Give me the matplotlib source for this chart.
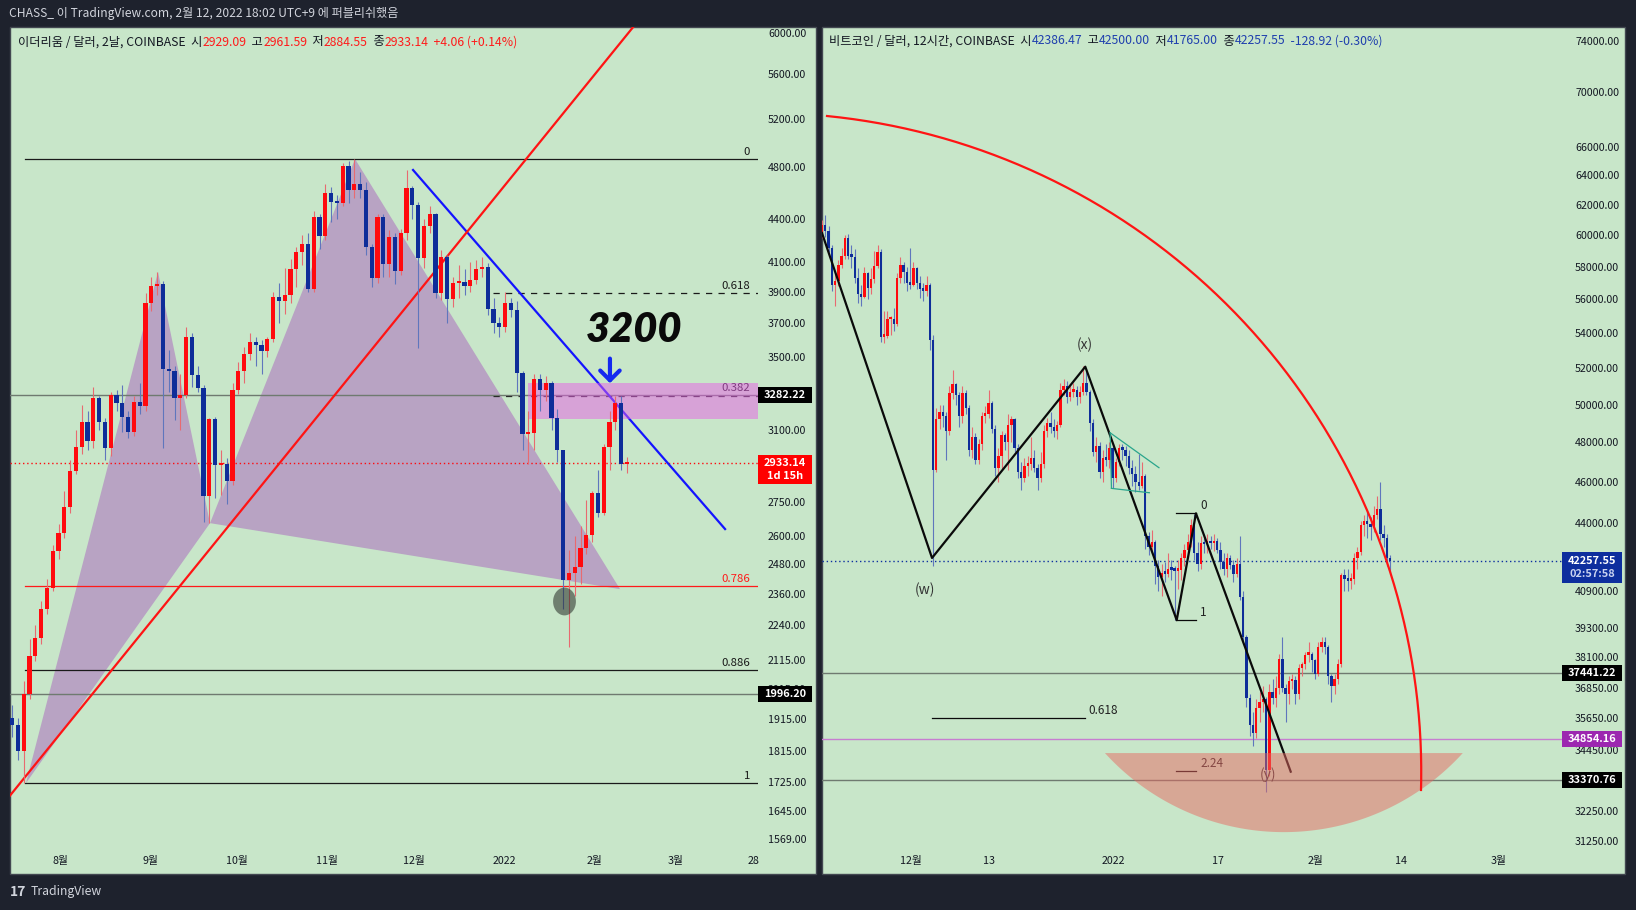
import numpy as np
import pandas as pd
import matplotlib
matplotlib.use('Agg')
import matplotlib.pyplot as plt
import matplotlib.ticker as mticker
from matplotlib.patches import Rectangle
from matplotlib.path import Path

plt.rcParams['font.family'] = ['Noto Sans CJK KR', 'DejaVu Sans']

# ------------------------------------------------------------------ data
# ETH / USD, 2-day candles (COINBASE)
eth_start = '2021-07-15 09:00'
eth_open0 = 1919
eth_close = [1897, 1816, 1997, 2128, 2192, 2301, 2382, 2534, 2611, 2727,
             2893, 3013, 3140, 3043, 3269, 3140, 3008, 3286, 3241, 3167,
             3089, 3247, 3225, 3828, 3938, 3950, 3430, 3419, 3269, 3286,
             3618, 3396, 3323, 2777, 3156, 2924, 2929, 2847, 3312, 3419,
             3517, 3588, 3570, 3535, 3606, 3867, 3841, 3880, 4051, 4167,
             4223, 3919, 4417, 4280, 4597, 4529, 4522, 4809, 4620, 4667,
             4620, 4203, 3991, 4417, 4085, 4272, 4037, 4301, 4636, 4507,
             4126, 4352, 4440, 3893, 4133, 3854, 3958, 3965, 3938, 3978,
             4051, 4065, 3791, 3703, 3679, 3828, 3785, 3408, 3079, 3085,
             3374, 3312, 3351, 3161, 2998, 2414, 2443, 2467, 2546, 2602,
             2791, 2699, 3013, 3140, 3241, 2929.09, 2933.14]
eth_high = [1960, 1920, 2040, 2190, 2240, 2330, 2420, 2560, 2650, 2800,
            2950, 3100, 3230, 3200, 3330, 3280, 3160, 3300, 3310, 3340,
            3200, 3280, 3350, 3890, 4000, 4031, 3970, 3540, 3450, 3400,
            3680, 3640, 3450, 3340, 3160, 3167, 3000, 2960, 3350, 3470,
            3560, 3640, 3620, 3600, 3620, 3900, 3960, 4060, 4120, 4200,
            4290, 4300, 4460, 4440, 4670, 4640, 4580, 4830, 4850, 4868,
            4760, 4680, 4220, 4440, 4440, 4320, 4300, 4330, 4780, 4650,
            4530, 4400, 4500, 4450, 4180, 4150, 4000, 4080, 4050, 4100,
            4110, 4130, 4090, 3860, 3740, 3900, 3860, 3840, 3420, 3200,
            3400, 3400, 3390, 3360, 3210, 3000, 2540, 2600, 2640, 2760,
            2800, 2900, 3030, 3200, 3280, 3280, 2961.59]
eth_low = [1860, 1790, 1722, 1980, 2110, 2170, 2280, 2370, 2500, 2590,
           2700, 2880, 2980, 3000, 3010, 3100, 2950, 2970, 3200, 3090,
           3060, 3070, 3180, 3200, 3780, 3880, 3008, 3300, 3150, 3100,
           3270, 3330, 3300, 2660, 2654, 2768, 2780, 2740, 2830, 3290,
           3350, 3480, 3450, 3400, 3500, 3590, 3700, 3760, 3830, 3930,
           4080, 3900, 3900, 4190, 4250, 4380, 4400, 4500, 4520, 4560,
           4560, 4150, 3930, 3960, 4000, 4000, 3950, 4010, 4250, 4400,
           3550, 4060, 4300, 3860, 3850, 3700, 3800, 3860, 3880, 3900,
           3950, 4000, 3750, 3640, 3620, 3650, 3740, 3300, 3000, 2930,
           3000, 3200, 3250, 3100, 2940, 2300, 2160, 2350, 2400, 2520,
           2570, 2680, 2690, 2900, 3100, 2900, 2884.55]

# BTC / USD, 12-hour candles (COINBASE), values in thousand USD
btc_start = '2021-11-17 09:00'
btc_open0_k = 60.1
btc_close_k = [60.7, 60.3, 59.2, 56.9, 57.1, 58.1, 58.7, 59.8, 58.7, 58.6,
               57.3, 56.3, 56.15, 57.6, 56.7, 57.25, 58.05, 58.95, 53.8, 53.85,
               54.8, 54.8, 54.55, 57.3, 58.1, 57.7, 57.0, 56.9, 57.9, 57.0,
               56.6, 56.5, 56.9, 53.6, 46.6, 49.2, 49.6, 49.4, 48.6, 50.6,
               51.1, 50.5, 49.4, 50.6, 49.8, 47.6, 48.3, 47.1, 47.9, 49.4,
               49.5, 50.1, 48.7, 46.7, 47.3, 48.4, 48.0, 48.9, 49.2, 47.7,
               46.5, 46.2, 46.8, 46.9, 47.2, 46.7, 46.2, 46.9, 48.6, 49.0,
               48.8, 48.6, 48.9, 50.8, 51.0, 50.4, 50.7, 50.8, 50.4, 50.7,
               51.2, 50.7, 49.0, 47.5, 47.8, 46.5, 47.2, 47.1, 47.7, 46.2,
               47.0, 47.7, 47.6, 47.3, 46.7, 46.4, 46.0, 45.8, 46.3, 43.4,
               42.9, 43.1, 42.0, 41.5, 41.7, 41.65, 41.9, 41.85, 41.8, 41.85,
               42.4, 42.75, 43.1, 43.9, 42.6, 42.1, 43.05, 43.0, 43.15, 43.05,
               43.15, 42.75, 42.2, 41.87, 42.36, 42.06, 41.64, 42.1, 40.65, 38.93,
               36.43, 35.39, 35.08, 36.04, 36.3, 36.4, 33.72, 36.69, 36.43, 36.85,
               38.0, 36.85, 36.6, 37.1, 37.15, 36.6, 37.65, 37.79, 38.17, 38.2,
               37.95, 37.4, 38.5, 38.7, 38.5, 37.3, 36.9, 37.2, 37.8, 41.6,
               41.45, 41.35, 41.45, 42.4, 42.65, 43.9, 44.1, 43.95, 43.8, 44.4,
               44.7, 43.5, 43.3, 42.38647, 42.25755]
btc_high_k = [61.0, 61.3, 60.6, 59.4, 57.6, 58.4, 59.2, 60.0, 60.1, 59.4,
              59.1, 57.9, 56.9, 58.0, 57.7, 57.9, 59.0, 59.4, 59.1, 55.3,
              55.3, 55.0, 55.5, 57.6, 58.6, 58.3, 58.0, 59.2, 58.3, 58.0,
              57.4, 57.0, 57.4, 57.0, 53.9, 49.8, 50.0, 50.0, 49.6, 51.0,
              51.9, 51.2, 50.7, 51.0, 50.8, 50.0, 48.8, 48.5, 48.2, 49.6,
              49.9, 50.8, 50.2, 48.9, 47.7, 48.6, 48.5, 49.5, 49.4, 49.3,
              47.9, 47.0, 47.2, 47.3, 48.3, 47.6, 46.9, 47.5, 48.9, 49.3,
              49.6, 49.2, 49.1, 51.2, 51.4, 51.3, 51.0, 51.2, 51.0, 51.0,
              52.1, 51.9, 50.8, 49.2, 48.3, 48.0, 47.6, 47.9, 48.0, 47.9,
              47.2, 47.9, 47.9, 47.8, 47.6, 47.1, 46.8, 47.4, 47.0, 46.4,
              43.6, 43.7, 43.2, 42.3, 42.1, 42.2, 42.6, 42.3, 42.0, 42.3,
              42.6, 43.0, 43.5, 44.2, 44.45, 43.1, 43.4, 43.3, 43.5, 43.4,
              43.5, 43.3, 43.1, 42.6, 42.6, 42.5, 42.3, 42.4, 43.4, 40.9,
              39.0, 36.6, 35.9, 36.4, 36.7, 36.9, 36.5, 37.0, 37.2, 37.3,
              38.2, 38.9, 37.0, 37.3, 37.4, 37.3, 37.8, 37.9, 38.3, 38.7,
              38.3, 38.0, 38.7, 38.9, 38.9, 38.6, 37.4, 37.4, 38.0, 41.7,
              41.9, 41.9, 41.7, 42.6, 42.9, 44.1, 44.4, 44.6, 44.3, 44.8,
              45.3, 46.0, 43.9, 43.5, 42.5]
btc_low_k = [59.8, 59.9, 58.9, 56.5, 55.6, 56.8, 57.9, 58.5, 58.5, 57.9,
             57.0, 55.8, 55.6, 56.1, 56.0, 56.3, 57.0, 57.9, 53.5, 53.4,
             53.7, 53.9, 54.1, 54.4, 57.0, 57.0, 56.5, 56.6, 56.8, 56.6,
             56.1, 55.9, 56.2, 53.0, 42.0, 46.5, 48.7, 48.8, 47.1, 48.4,
             50.3, 50.0, 48.8, 49.0, 49.5, 47.3, 47.2, 46.9, 46.9, 47.6,
             49.0, 49.3, 48.5, 46.3, 46.0, 46.6, 47.6, 46.6, 48.0, 47.5,
             46.2, 45.6, 46.0, 46.3, 46.6, 46.5, 45.6, 46.0, 46.7, 48.3,
             48.5, 48.3, 48.2, 48.8, 50.5, 50.1, 50.2, 50.4, 50.0, 50.1,
             50.5, 50.5, 48.6, 47.3, 47.0, 46.2, 46.0, 46.8, 46.7, 45.7,
             46.0, 46.8, 47.1, 46.8, 46.4, 45.8, 45.5, 45.6, 45.7, 42.8,
             42.5, 42.6, 41.2, 40.9, 40.7, 41.3, 41.5, 41.4, 39.65, 41.0,
             41.4, 42.0, 42.4, 42.9, 42.3, 41.8, 41.9, 42.6, 42.6, 42.8,
             42.7, 42.6, 41.9, 41.6, 41.5, 41.9, 41.3, 41.5, 40.5, 38.7,
             36.1, 35.0, 34.6, 34.9, 35.5, 35.9, 32.94, 33.5, 36.2, 36.1,
             36.6, 36.7, 35.5, 36.2, 36.8, 36.2, 36.4, 37.3, 37.6, 37.9,
             37.5, 37.2, 37.3, 38.3, 38.2, 37.0, 36.3, 36.6, 37.0, 37.7,
             40.9, 40.9, 41.0, 41.2, 41.9, 42.5, 43.4, 43.3, 43.2, 43.6,
             44.2, 43.2, 42.9, 42.0, 41.765]

# axis ticks
eth_xtick_dates = ['2021-08-01', '2021-09-01', '2021-10-01', '2021-11-01', '2021-12-01',
                   '2022-01-01', '2022-02-01', '2022-03-01', '2022-03-28']
eth_xtick_labels = ['8월', '9월', '10월', '11월', '12월', '2022', '2월', '3월', '28']
eth_yticks = [6000, 5600, 5200, 4800, 4400, 4100, 3900, 3700, 3500, 3100, 2750, 2600,
              2480, 2360, 2240, 2115, 2015, 1915, 1815, 1725, 1645, 1569]
btc_xtick_dates = ['2021-12-01', '2021-12-13', '2022-01-01', '2022-01-17', '2022-02-01',
                   '2022-02-14', '2022-03-01']
btc_xtick_labels = ['12월', '13', '2022', '17', '2월', '14', '3월']
btc_yticks = [74000, 70000, 66000, 64000, 62000, 60000, 58000, 56000, 54000, 52000, 50000,
              48000, 46000, 44000, 40900, 39300, 38100, 36850, 35650, 34450,
              32250, 31250]

# drawing levels (prices) -- ETH
eth_fib_solid = [('0', 4865, '#1a1a1a'), ('0.786', 2392, '#ff1a1a'),
                 ('0.886', 2078, '#1a1a1a'), ('1', 1722, '#1a1a1a')]
eth_fib_dashed = [('0.618', 3893), ('0.382', 3282)]
eth_hlines = [3282.22, 1996.20]
eth_last = 2933.14
eth_zone = (3156, 3351)
# harmonic XABCD points (day from 2021-08-01, price)
eth_xabcd = [(-11.86, 1722), (33.66, 4031), (51.59, 2654), (101.6, 4865), (192.97, 2378)]
eth_blue_line = [(121.6, 4777), (229.2, 2628)]
eth_red_line = [(-17.24, 1688), (196.9, 6038)]

# drawing levels -- BTC  (day from 2021-12-01, price)
btc_hlines = [(37441.22, '#6f7a70'), (34854.16, '#c77dd0'), (33370.76, '#6f7a70')]
btc_last = 42257.55
btc_wxy = [(-13.63, 60150), (3.22, 42380), (26.69, 52080), (40.69, 39634), (43.64, 44469), (58.15, 33663)]
btc_fib_short = [('0', 44469), ('1', 39634), ('2.24', 33685)]
btc_618 = 35668
btc_arc = [(-12.86, 68232), (50.38, 54886), (78.1, 33005)]
btc_bowl = [(29.7, 34345), (57.0, 31540), (84.5, 34345)]

# ------------------------------------------------------------------ style
W, H = 1636, 910
GREEN = '#c8e6c9'
BG = '#1e222d'
RED = '#ff0a0e'
BLUE = '#0e2d99'
RED_W = '#e86a70'
BLUE_W = '#5f76bd'
TXT = '#131722'

fig = plt.figure(figsize=(W / 100, H / 100), dpi=100)
fig.patch.set_facecolor(BG)

# panels
for x0, x1 in [(10, 816), (822, 1625)]:
    fig.add_artist(Rectangle((x0 / W, 1 - 874 / H), (x1 - x0) / W, (874 - 27) / H,
                             transform=fig.transFigure, facecolor=GREEN,
                             edgecolor='#434851', lw=1, zorder=-1))


def make_axes(x0, x1, y0, y1):
    ax = fig.add_axes([x0 / W, 1 - y1 / H, (x1 - x0) / W, (y1 - y0) / H])
    ax.set_facecolor('none')
    for s in ax.spines.values():
        s.set_visible(False)
    ax.set_yscale('log')
    return ax


def log_lims(p_top, y_top, p_bot, y_bot, ax_top, ax_bot):
    k = (np.log(p_top) - np.log(p_bot)) / (y_bot - y_top)
    return np.exp(np.log(p_bot) - (ax_bot - y_bot) * k), np.exp(np.log(p_top) + (y_top - ax_top) * k)


def style_axes(ax, yticks, xdays, xlabels, ypad):
    ax.yaxis.tick_right()
    ax.set_yticks(yticks)
    ax.set_yticklabels([f'{v:.2f}' for v in yticks])
    ax.yaxis.set_minor_locator(mticker.NullLocator())
    ax.yaxis.set_minor_formatter(mticker.NullFormatter())
    ax.set_xticks(xdays)
    ax.set_xticklabels(xlabels)
    ax.tick_params(axis='y', length=0, pad=ypad, labelsize=7.7, labelcolor=TXT)
    ax.tick_params(axis='x', length=0, pad=5.6, labelsize=7.7, labelcolor=TXT)


def candles(ax, x, o, h, l, c, w):
    o, h, l, c = map(np.asarray, (o, h, l, c))
    h = np.maximum(h, np.maximum(o, c))
    l = np.minimum(l, np.minimum(o, c))
    up = c >= o
    ax.vlines(x, l, h, colors=np.where(up, RED_W, BLUE_W), lw=0.8, zorder=3)
    bot = np.minimum(o, c)
    hgt = np.maximum(np.abs(c - o), bot * 0.003)
    ax.bar(x, hgt, bottom=bot, width=w, color=np.where(up, RED, BLUE), lw=0, zorder=3.5)


def circle3(P):
    (ax_, ay_), (bx, by), (cx, cy) = P
    d = 2 * (ax_ * (by - cy) + bx * (cy - ay_) + cx * (ay_ - by))
    ux = ((ax_**2 + ay_**2) * (by - cy) + (bx**2 + by**2) * (cy - ay_) + (cx**2 + cy**2) * (ay_ - by)) / d
    uy = ((ax_**2 + ay_**2) * (cx - bx) + (bx**2 + by**2) * (ax_ - cx) + (cx**2 + cy**2) * (bx - ax_)) / d
    return ux, uy, np.hypot(ax_ - ux, ay_ - uy)


def arc_points(ax, pts, n=300):
    T = ax.transData
    P = T.transform(pts)
    cx, cy, r = circle3(P)
    a0, am, a1 = [np.arctan2(p[1] - cy, p[0] - cx) for p in P]
    span = lambda a, b: (b - a) % (2 * np.pi)
    if span(a0, am) < span(a0, a1):
        ang = a0 + np.linspace(0, span(a0, a1), n)
    else:
        ang = a0 - np.linspace(0, span(a1, a0), n)
    D = np.column_stack([cx + r * np.cos(ang), cy + r * np.sin(ang)])
    return T.inverted().transform(D)


# ------------------------------------------------------------------ left: ETH
axL = make_axes(10, 758, 27, 848)
L0, LS = 60.4, 2.9          # pixel of 2021-08-01, pixels per day
axL.set_xlim((10 - L0) / LS, (758 - L0) / LS)
eth_base = pd.Timestamp('2021-08-01')
eth_x = (pd.date_range(eth_start, periods=len(eth_close), freq='2D') - eth_base) / pd.Timedelta('1D')
eth_open = [eth_open0] + eth_close[:-1]
style_axes(axL, eth_yticks,
           (pd.to_datetime(eth_xtick_dates) - eth_base) / pd.Timedelta('1D'),
           eth_xtick_labels, 7.2)
axL.set_ylim(*log_lims(6000, 33, 1569, 839, 27, 848))
xmaxL = axL.get_xlim()[1]

X, A, B, C, D = eth_xabcd
HARM = '#b8a3c3'
axL.fill([X[0], A[0], B[0]], [X[1], A[1], B[1]], color=HARM, lw=0, zorder=1)
axL.fill([B[0], C[0], D[0]], [B[1], C[1], D[1]], color=HARM, lw=0, zorder=1)

for name, p, col in eth_fib_solid:
    axL.plot([-12.2, xmaxL], [p, p], color=col, lw=0.9, zorder=2)
    axL.annotate(name, xy=(237.8, p), xytext=(0, 1.5), textcoords='offset points',
                 ha='right', va='bottom', fontsize=8.2, color=col, zorder=2)
for name, p in eth_fib_dashed:
    axL.plot([149.2, xmaxL], [p, p], color='#1a1a1a', lw=0.9, ls=(0, (5, 5)), zorder=2)
    axL.annotate(name, xy=(237.8, p), xytext=(0, 1.5), textcoords='offset points',
                 ha='right', va='bottom', fontsize=8.2, color='#1a1a1a', zorder=2)
for p in eth_hlines:
    axL.axhline(p, color='#6f7a70', lw=1, zorder=2)
axL.axhline(eth_last, color=RED, lw=1, ls=(0, (1, 2)), zorder=2)

axL.plot(*zip(*eth_blue_line), color='#1414ff', lw=1.6, zorder=2)
axL.axline(eth_red_line[0], eth_red_line[1], color='#ff1414', lw=1.6, zorder=2.2)

axL.bar([(161.3 + xmaxL) / 2], [eth_zone[1] - eth_zone[0]], bottom=eth_zone[0],
        width=xmaxL - 161.3, color='#e65fe6', alpha=0.5, lw=0, zorder=2.5)

candles(axL, eth_x, eth_open, eth_high, eth_low, eth_close, 1.45)

t = np.linspace(0, 2 * np.pi, 80)
ell = Path(np.column_stack([23 * np.cos(t), 28 * np.sin(t)]))
axL.plot([173.5], [2332], marker=ell, ms=20, color='#262b26', alpha=0.55, mew=0, zorder=6)

axL.text(197.8, 3660, '3200', fontsize=30, fontweight='heavy', style='italic',
         family=['Lato', 'DejaVu Sans'], color='#0a0a0a', ha='center', va='center', zorder=7)
axL.annotate('', xy=(189.5, 3350), xytext=(189.5, 3490),
             arrowprops=dict(arrowstyle='->,head_length=1.0,head_width=1.0', lw=3,
                             color='#1428f0', mutation_scale=7, shrinkA=0, shrinkB=0), zorder=7)

# ------------------------------------------------------------------ right: BTC
axR = make_axes(822, 1562, 27, 848)
R0, RS = 911, 6.53          # pixel of 2021-12-01, pixels per day
axR.set_xlim((822 - R0) / RS, (1562 - R0) / RS)
btc_base = pd.Timestamp('2021-12-01')
btc_x = (pd.date_range(btc_start, periods=len(btc_close_k), freq='12h') - btc_base) / pd.Timedelta('1D')
btc_close = np.array(btc_close_k) * 1000
btc_open = np.array([btc_open0_k] + btc_close_k[:-1]) * 1000
btc_high = np.array(btc_high_k) * 1000
btc_low = np.array(btc_low_k) * 1000
style_axes(axR, btc_yticks,
           (pd.to_datetime(btc_xtick_dates) - btc_base) / pd.Timedelta('1D'),
           btc_xtick_labels, 9.4)
axR.set_ylim(*log_lims(74000, 40.7, 31250, 840.7, 27, 848))

for p, col in btc_hlines:
    axR.axhline(p, color=col, lw=1, zorder=2)
axR.axhline(btc_last, color='#0d2fa0', lw=1, ls=(0, (1, 2)), zorder=2)

candles(axR, btc_x, btc_open, btc_high, btc_low, btc_close, 0.36)

# W-X-Y zigzag
axR.plot(*zip(*btc_wxy), color='#0a0a0a', lw=1.6, zorder=5)
axR.plot([3.2, 26.6], [btc_618, btc_618], color='#0a0a0a', lw=0.9, zorder=5)
axR.annotate('0.618', xy=(27.1, btc_618), xytext=(0, 1), textcoords='offset points',
             ha='left', va='bottom', fontsize=8.5, color='#222222', zorder=5)
for name, p in btc_fib_short:
    axR.plot([40.6, 43.6], [p, p], color='#0a0a0a', lw=0.9, zorder=5)
    axR.annotate(name, xy=(44.3, p), xytext=(0, 1), textcoords='offset points',
                 ha='left', va='bottom', fontsize=8.5, color='#222222', zorder=5)
for lab, xd, p in [('(w)', 2.14, 40965), ('(x)', 26.6, 53310), ('(y)', 54.7, 33540)]:
    axR.text(xd, p, lab, ha='center', va='center', fontsize=10, color='#333333', zorder=5)

# teal wedge
TEAL = '#2aa58c'
axR.plot([30.5, 37.97], [48500, 46710], color=TEAL, lw=0.9, zorder=5)
axR.plot([30.7, 36.5], [45680, 45466], color=TEAL, lw=0.9, zorder=5)
axR.plot([30.5, 30.7], [48500, 45680], color=TEAL, lw=0.9, zorder=5)

# bowl
bowl = arc_points(axR, btc_bowl)
axR.fill(bowl[:, 0], bowl[:, 1], color='#e66a63', alpha=0.5, lw=0, zorder=6)

# big red arc
arc = arc_points(axR, btc_arc)
axR.plot(arc[:, 0], arc[:, 1], color='#ff1414', lw=1.6, zorder=6)

# ------------------------------------------------------------------ overlay (texts, price tags)
ov = fig.add_axes([0, 0, 1, 1], zorder=10)
ov.set_xlim(0, W)
ov.set_ylim(H, 0)
ov.axis('off')
ov.patch.set_alpha(0)


def price_box(ax, price, x0, x1, lines, fc, up=8, down=8, colors=('white',)):
    ypx = H - ax.transData.transform((ax.get_xlim()[0], price))[1]
    ov.add_patch(Rectangle((x0, ypx - up), x1 - x0, up + down, facecolor=fc, edgecolor='none', zorder=5))
    for i, s in enumerate(lines):
        ov.text((x0 + x1) / 2, ypx + i * 13, s, ha='center', va='center', fontsize=7.9,
                fontweight='bold', color=colors[min(i, len(colors) - 1)], zorder=6)


price_box(axL, eth_hlines[0], 758, 812, [f'{eth_hlines[0]:.2f}'], '#000000')
price_box(axL, eth_last, 758, 812, [f'{eth_last:.2f}', '1d 15h'], '#ff0000', up=8, down=21)
price_box(axL, eth_hlines[1], 758, 812, [f'{eth_hlines[1]:.2f}'], '#000000')
price_box(axR, btc_last, 1562, 1622, [f'{btc_last:.2f}', '02:57:58'], '#0d2e9e', up=9, down=22,
          colors=('white', '#c9d2f0'))
price_box(axR, btc_hlines[0][0], 1562, 1622, [f'{btc_hlines[0][0]:.2f}'], '#000000')
price_box(axR, btc_hlines[1][0], 1562, 1622, [f'{btc_hlines[1][0]:.2f}'], '#9c27b0')
price_box(axR, btc_hlines[2][0], 1562, 1622, [f'{btc_hlines[2][0]:.2f}'], '#000000')


def rich(x, y, parts, size):
    t = ov.text(x, y, parts[0][0], color=parts[0][1], fontsize=size, ha='left', va='center')
    for s, c in parts[1:]:
        t = ov.annotate(s, xy=(1, 0), xycoords=t, ha='left', va='bottom', color=c, fontsize=size)


ov.text(9, 14, 'CHASS_ 이 TradingView.com, 2월 12, 2022 18:02 UTC+9 에 퍼블리쉬했음',
        color='#d1d4dc', fontsize=8.7, ha='left', va='center')

ER = '#ff1a1a'
rich(18, 42, [('이더리움 / 달러, 2날, COINBASE  시', TXT), (f'{eth_open[-1]:.2f}', ER),
              ('  고', TXT), (f'{eth_high[-1]:.2f}', ER), ('  저', TXT), (f'{eth_low[-1]:.2f}', ER),
              ('  종', TXT), (f'{eth_close[-1]:.2f}', ER), ('  +4.06 (+0.14%)', ER)], 8.8)
BT = '#1f3fae'
rich(829, 41, [('비트코인 / 달러, 12시간, COINBASE  시', TXT), (f'{btc_open[-1]:.2f}', BT),
               ('  고', TXT), (f'{btc_high[-1]:.2f}', BT), ('  저', TXT), (f'{btc_low[-1]:.2f}', BT),
               ('  종', TXT), (f'{btc_close[-1]:.2f}', BT), ('  -128.92 (-0.30%)', BT)], 8.8)

ov.text(10, 892, '17', color='#d1d4dc', fontsize=10, fontweight='bold', ha='left', va='center')
ov.text(31, 892, 'TradingView', color='#d1d4dc', fontsize=8.8, ha='left', va='center')

fig.savefig('out.png', dpi=100, facecolor=BG)
